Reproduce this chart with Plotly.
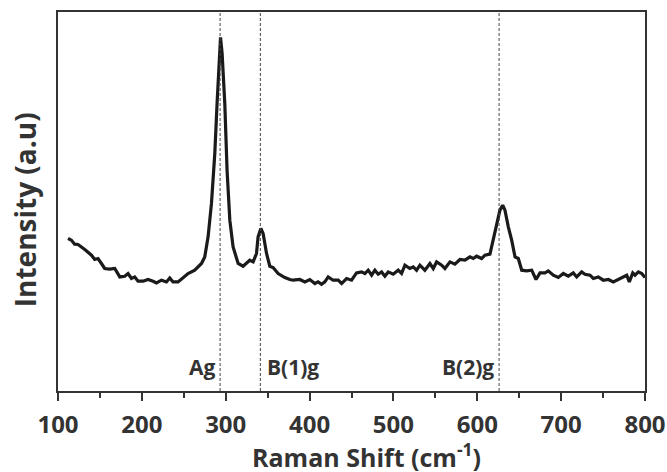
import plotly.graph_objects as go

# Raman spectrum
raman_shift = [111.9, 116.0, 119.9, 123.9, 131.9, 139.9, 143.8, 147.7, 151.8, 155.7,
               161.7, 167.7, 173.7, 179.6, 183.5, 187.6, 191.5, 195.5, 201.4, 207.4,
               213.4, 217.4, 223.4, 229.3, 233.3, 237.2, 243.2, 249.2, 255.1, 263.1,
               271.1, 275.0, 279.0, 283.0, 287.0, 289.7, 292.1, 293.8, 295.7, 298.9,
               301.6, 304.9, 308.8, 314.8, 320.7, 324.8, 328.7, 332.7, 336.7, 338.6,
               341.9, 344.6, 348.7, 352.6, 356.5, 362.5, 370.5, 376.5, 380.4, 388.4,
               394.4, 400.3, 406.3, 410.2, 414.3, 418.2, 422.2, 428.1, 434.1, 438.2,
               444.1, 450.1, 456.0, 462.0, 466.0, 469.9, 474.0, 477.9, 481.8, 485.9,
               489.8, 493.8, 499.7, 505.7, 509.7, 513.7, 519.6, 523.6, 527.6, 531.6,
               537.5, 543.5, 547.5, 551.5, 557.5, 561.4, 567.4, 573.3, 579.3, 585.3,
               591.2, 595.2, 599.2, 605.2, 609.1, 615.1, 619.0, 623.1, 627.0, 630.3,
               633.0, 637.0, 641.0, 645.0, 648.9, 653.0, 658.9, 664.9, 670.0, 674.8,
               680.7, 684.7, 690.6, 696.6, 702.6, 708.5, 714.5, 718.5, 724.5, 728.4,
               734.4, 738.4, 744.3, 750.3, 756.3, 762.2, 768.2, 774.2, 778.2, 781.3,
               785.4, 788.1, 792.1, 796.1, 800.0]
intensity = [1524, 1507, 1467, 1464, 1414, 1357, 1314, 1324, 1274, 1224,
             1217, 1224, 1140, 1147, 1174, 1124, 1140, 1097, 1097, 1114,
             1097, 1080, 1107, 1090, 1130, 1090, 1090, 1134, 1174, 1207,
             1274, 1340, 1540, 1874, 2374, 2874, 3374, 3534, 3374, 2874,
             2207, 1707, 1440, 1274, 1247, 1280, 1307, 1290, 1374, 1540,
             1624, 1574, 1374, 1247, 1234, 1174, 1134, 1114, 1107, 1114,
             1090, 1114, 1074, 1090, 1067, 1090, 1140, 1107, 1107, 1074,
             1124, 1107, 1180, 1190, 1174, 1207, 1157, 1207, 1167, 1190,
             1147, 1190, 1167, 1207, 1174, 1257, 1224, 1240, 1207, 1257,
             1207, 1274, 1224, 1290, 1257, 1224, 1290, 1267, 1314, 1307,
             1340, 1324, 1347, 1324, 1357, 1367, 1507, 1674, 1807, 1857,
             1807, 1640, 1507, 1340, 1324, 1207, 1200, 1207, 1114, 1180,
             1180, 1200, 1157, 1134, 1174, 1147, 1180, 1140, 1190, 1167,
             1157, 1124, 1140, 1107, 1114, 1090, 1114, 1134, 1157, 1090,
             1180, 1157, 1190, 1174, 1134]

mode_labels = ["Ag", "B(1)g", "B(2)g"]
mode_positions = [293.3, 341.3, 626.0]
label_sides = ["left", "right", "left"]

x_ticks = [100, 200, 300, 400, 500, 600, 700, 800]
y_max = 3787

TXT = "#333333"
FONT = "Open Sans"

fig = go.Figure()
fig.add_trace(go.Scatter(x=raman_shift, y=intensity, mode="lines",
                         line=dict(color="#1a1a1a", width=3.2, shape="linear"),
                         showlegend=False, hoverinfo="skip"))

for lab, pos, side in zip(mode_labels, mode_positions, label_sides):
    fig.add_shape(type="line", xref="x", yref="y", x0=pos, x1=pos, y0=0, y1=y_max,
                  line=dict(color="#444444", width=1, dash="3px,2px"))
    fig.add_annotation(x=pos, y=240, xref="x", yref="y", text="<b>%s</b>" % lab,
                       showarrow=False, font=dict(family=FONT, size=21, color=TXT),
                       xanchor="right" if side == "left" else "left",
                       xshift=-3 if side == "left" else 5, yanchor="middle")

# axis titles
fig.add_annotation(x=0.5256, y=-0.170, xref="paper", yref="paper",
                   text="<b>Raman Shift (cm<sup>-1</sup>)</b>", showarrow=False,
                   font=dict(family=FONT, size=25, color=TXT),
                   xanchor="center", yanchor="middle")
fig.add_annotation(x=-0.0562, y=0.477, xref="paper", yref="paper",
                   text="<b>Intensity (a.u)</b>", showarrow=False, textangle=-90,
                   font=dict(family=FONT, size=28, color=TXT),
                   xanchor="center", yanchor="middle")

fig.update_layout(
    width=667, height=472,
    margin=dict(l=58, r=22, t=12, b=81, autoexpand=False),
    plot_bgcolor="white", paper_bgcolor="white",
    font=dict(family=FONT, color=TXT),
    xaxis=dict(range=[100, 800], tickvals=x_ticks, automargin=False,
               ticktext=["<b>%d</b>" % v for v in x_ticks],
               tickfont=dict(family=FONT, size=24, color=TXT),
               ticks="outside", ticklen=8, tickwidth=1.5, tickcolor="#333333",
               ticklabelstandoff=3,
               minor=dict(dtick=50, ticks="outside", ticklen=5, tickwidth=1.5, tickcolor="#333333"),
               showline=True, linecolor="#333333", linewidth=2, mirror=True,
               showgrid=False, zeroline=False),
    yaxis=dict(range=[0, y_max], showticklabels=False, ticks="", automargin=False,
               showline=True, linecolor="#333333", linewidth=2, mirror=True,
               showgrid=False, zeroline=False),
)

fig.write_html("out.html", config={"displayModeBar": False},
               post_script="document.body.style.margin='0';document.body.style.overflow='hidden';")
